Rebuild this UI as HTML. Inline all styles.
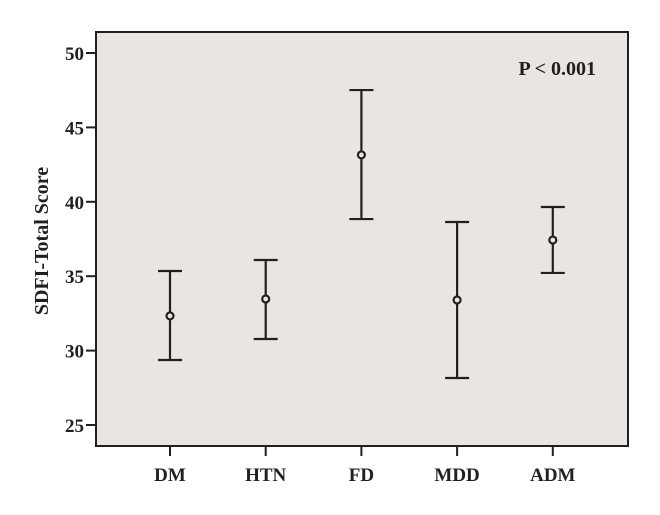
<!DOCTYPE html>
<html><head><meta charset="utf-8"><style>
body{margin:0;background:#fff;}
svg text{font-family:"Liberation Serif",serif;font-weight:bold;fill:#231f20;}
</style></head><body>
<svg id="chart" width="660" height="510"></svg>
<script>
const categories=["DM","HTN","FD","MDD","ADM"];
const means=[32.33,33.47,43.15,33.4,37.43];
const uppers=[35.35,36.09,47.51,38.64,39.65];
const lowers=[29.37,30.78,38.84,28.16,35.22];
const yTicks=[25,30,35,40,45,50];
const NS="http://www.w3.org/2000/svg";
const svg=document.getElementById('chart');
const L=96,R=628,T=32,B=446;
const y=v=>53+(50-v)*14.88;
const x=i=>170+i*95.7;
function el(tag,attrs,parent){const e=document.createElementNS(NS,tag);for(const k in attrs)e.setAttribute(k,attrs[k]);(parent||svg).appendChild(e);return e;}
const frame=el('rect',{x:L,y:T,width:R-L,height:B-T,fill:'#ebe5e2',stroke:'#231f20','stroke-width':2});


yTicks.forEach(v=>{
  const t=el('line',{x1:L-10,x2:L,y1:y(v),y2:y(v),stroke:'#231f20','stroke-width':2});
  
  
  const tx=el('text',{x:L-12,y:y(v)+7,'text-anchor':'end','font-size':19});
  tx.textContent=v;
  
  
});
categories.forEach((c,i)=>{
  const cx=x(i);
  const t=el('line',{x1:cx,x2:cx,y1:B,y2:B+10,stroke:'#231f20','stroke-width':2});
  
  
  const tx=el('text',{x:cx,y:481,'text-anchor':'middle','font-size':19});
  tx.textContent=c;
  
  
  const g=el('g',{stroke:'#231f20','stroke-width':2.2,fill:'none'});
  
  
  el('line',{x1:cx,x2:cx,y1:y(uppers[i]),y2:y(lowers[i])},g);
  el('line',{x1:cx-12,x2:cx+12,y1:y(uppers[i]),y2:y(uppers[i])},g);
  el('line',{x1:cx-12,x2:cx+12,y1:y(lowers[i]),y2:y(lowers[i])},g);
  el('circle',{cx:cx,cy:y(means[i]),r:3.5,fill:'#ebe5e2'},g);
});
const yt=el('text',{x:0,y:0,'text-anchor':'middle','font-size':20,transform:'translate(48,241) rotate(-90)'});
yt.textContent='SDFI-Total Score';


const p=el('text',{x:596,y:75,'text-anchor':'end','font-size':20});
p.textContent='P < 0.001';


</script>
</body></html>
